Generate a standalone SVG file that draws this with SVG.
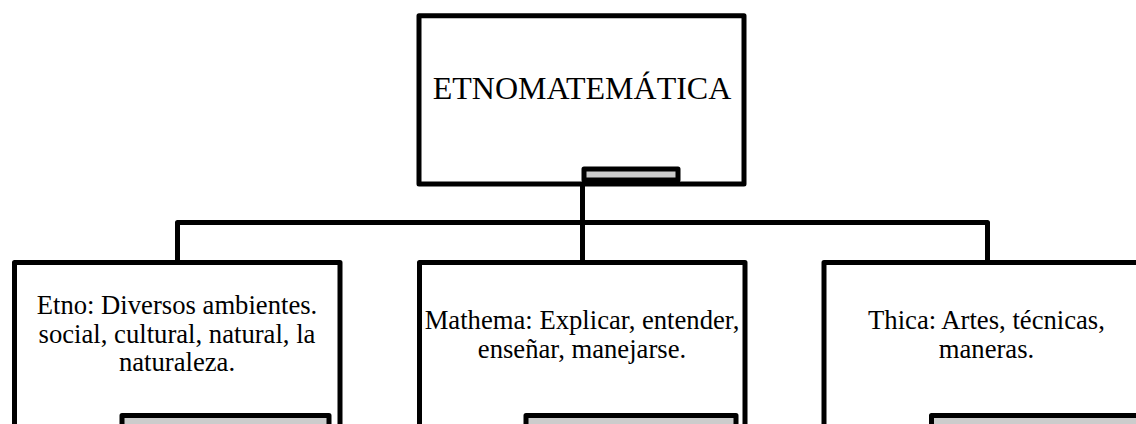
<svg xmlns="http://www.w3.org/2000/svg" width="1136" height="424" viewBox="0 0 1136 424">
<style>
.box{fill:#fff;stroke:#000;stroke-width:5;stroke-linejoin:round}
.tab{fill:#cccccc;stroke:#000;stroke-width:5;stroke-linejoin:round}
.conn{fill:none;stroke:#000;stroke-width:5;stroke-linejoin:round}
.t{font-family:"Liberation Serif","Times New Roman",serif;fill:#000;text-anchor:middle}
.big{font-size:32px}
.sm{font-size:26.67px}
</style>
<rect width="1136" height="424" fill="#fff"/>
<g id="connectors">
<path class="conn" d="M177.5,262 V222.5 H987.5 V262"/>
<path class="conn" d="M582.5,172 V262"/>
</g>
<g id="node-top">
<rect class="box" x="419" y="15.8" width="325" height="168.2"/>
<rect class="tab" x="584" y="169" width="94" height="11"/>
<text class="t big" x="582" y="99">ETNOMATEMÁTICA</text>
</g>
<g id="node-etno">
<rect class="box" x="14.5" y="262.5" width="325.5" height="180"/>
<rect class="tab" x="122" y="415.5" width="207" height="30"/>
<text class="t sm" x="177" y="314">Etno: Diversos ambientes.</text>
<text class="t sm" x="177" y="342.5">social, cultural, natural, la</text>
<text class="t sm" x="177" y="371">naturaleza.</text>
</g>
<g id="node-mathema">
<rect class="box" x="419.5" y="262.5" width="325.5" height="180"/>
<rect class="tab" x="526" y="415.5" width="210" height="30"/>
<text class="t sm" x="582" y="329">Mathema: Explicar, entender,</text>
<text class="t sm" x="582" y="357.5">enseñar, manejarse.</text>
</g>
<g id="node-thica">
<rect class="box" x="824" y="262.5" width="325.5" height="180"/>
<rect class="tab" x="931.5" y="415.5" width="210" height="30"/>
<text class="t sm" x="986.5" y="329">Thica: Artes, técnicas,</text>
<text class="t sm" x="986.5" y="357.5">maneras.</text>
</g>
</svg>
